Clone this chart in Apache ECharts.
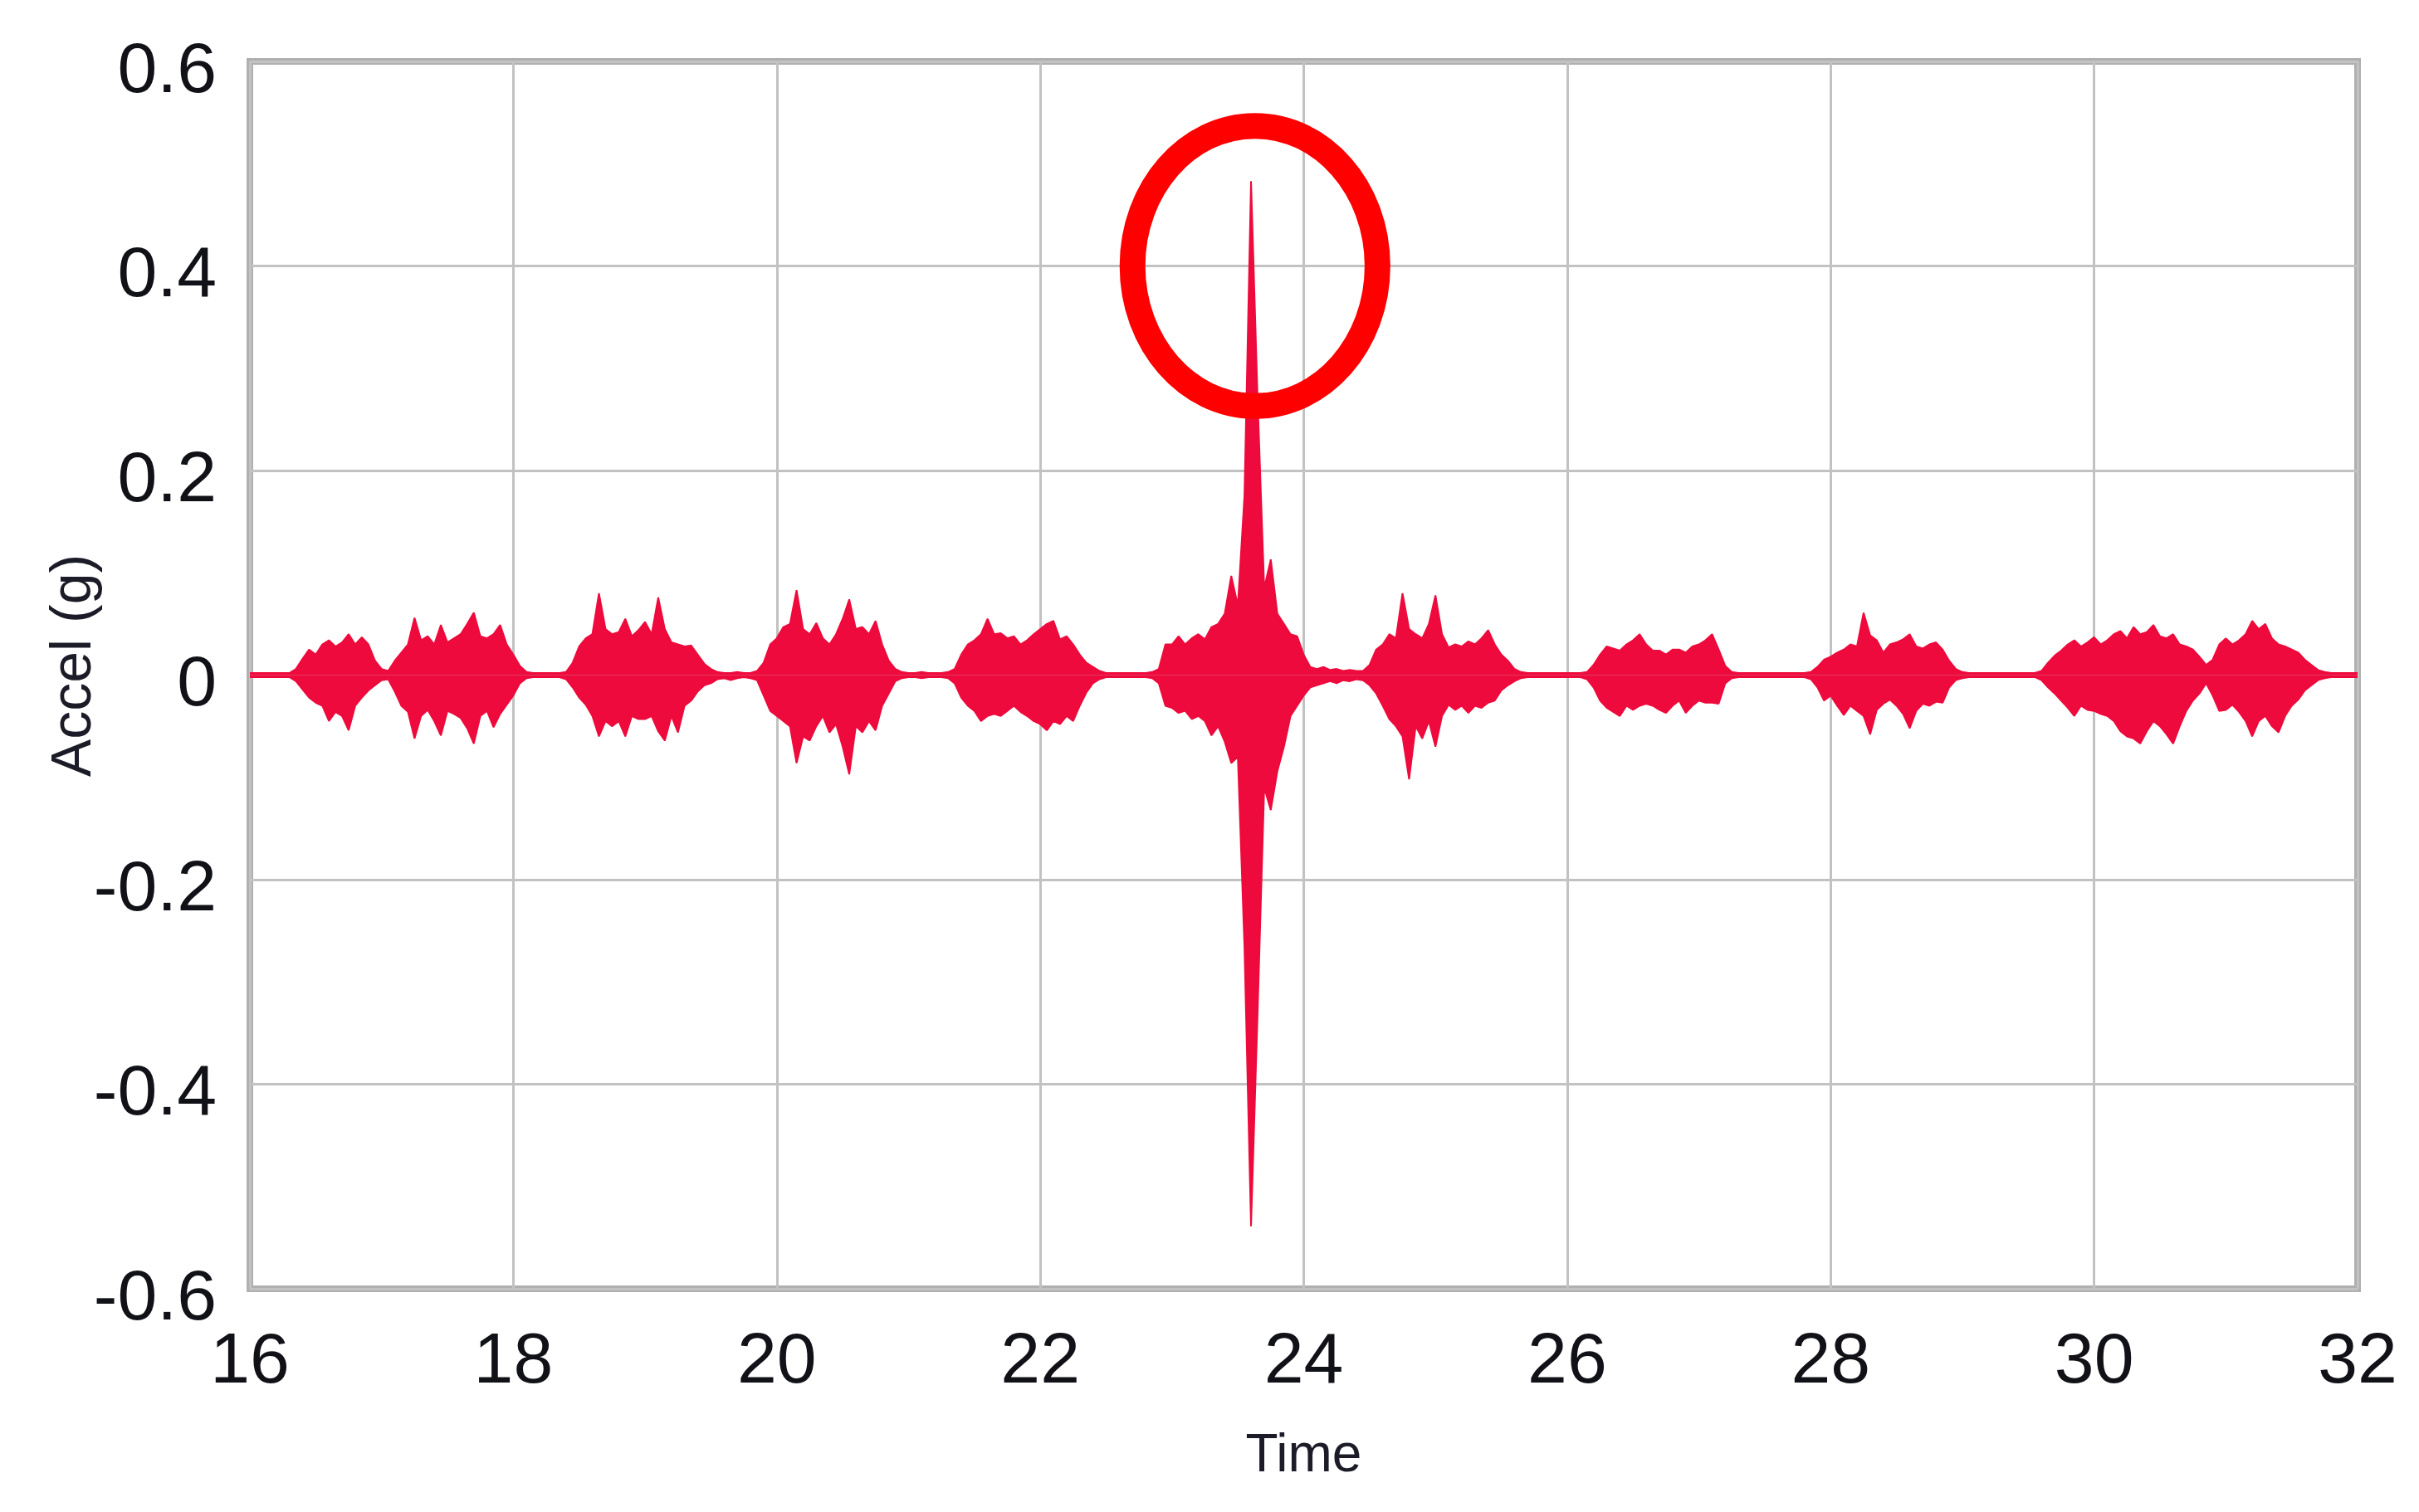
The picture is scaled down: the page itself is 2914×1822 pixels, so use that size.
<!DOCTYPE html>
<html>
<head>
<meta charset="utf-8">
<title>Accel (g) vs Time</title>
<script src="https://cdn.jsdelivr.net/npm/echarts@6/dist/echarts.min.js"></script>
<style>
    html, body { margin: 0; padding: 0; background: #ffffff; }
    #chart { width: 2914px; height: 1822px; }
</style>
</head>
<body>
<div id="chart"></div>
<script>
// sampling grid of the envelope (s)
const tStart = 16;
const tStep = 0.05;

// upper envelope of the acceleration, one row per second (16.00 .. 31.95, then 32.00)
const upperG = [
    0.002,0.002,0.002,0.002,0.002,0.002,0.002,0.006,0.016,0.025,0.020,0.030,0.034,0.028,0.032,0.040,0.030,0.037,0.030,0.014,
    0.006,0.004,0.014,0.022,0.030,0.056,0.034,0.038,0.030,0.049,0.032,0.036,0.040,0.050,0.061,0.038,0.036,0.040,0.049,0.030,
    0.020,0.009,0.003,0.002,0.002,0.002,0.002,0.002,0.003,0.012,0.028,0.036,0.040,0.080,0.045,0.040,0.042,0.055,0.038,0.044,
    0.052,0.040,0.076,0.045,0.032,0.030,0.028,0.029,0.020,0.011,0.006,0.003,0.002,0.002,0.003,0.002,0.002,0.004,0.012,0.030,
    0.036,0.047,0.050,0.083,0.045,0.040,0.051,0.036,0.030,0.040,0.055,0.074,0.045,0.047,0.040,0.053,0.030,0.014,0.006,0.003,
    0.002,0.002,0.003,0.002,0.002,0.002,0.003,0.006,0.020,0.030,0.034,0.040,0.055,0.040,0.041,0.036,0.038,0.030,0.034,0.040,
    0.045,0.050,0.053,0.035,0.038,0.030,0.020,0.012,0.008,0.004,0.002,0.002,0.002,0.002,0.002,0.002,0.002,0.003,0.006,0.030,
    0.030,0.038,0.030,0.036,0.040,0.035,0.047,0.050,0.060,0.097,0.068,0.175,0.483,0.270,0.085,0.113,0.060,0.050,0.040,0.038,
    0.020,0.008,0.006,0.008,0.005,0.006,0.004,0.005,0.004,0.004,0.010,0.025,0.030,0.040,0.036,0.080,0.045,0.040,0.036,0.050,
    0.078,0.040,0.027,0.030,0.028,0.033,0.030,0.036,0.044,0.030,0.020,0.014,0.006,0.003,0.002,0.002,0.002,0.002,0.002,0.002,
    0.002,0.002,0.002,0.003,0.010,0.020,0.028,0.026,0.024,0.030,0.034,0.040,0.030,0.024,0.024,0.020,0.025,0.025,0.022,0.028,
    0.030,0.034,0.040,0.025,0.009,0.003,0.002,0.002,0.002,0.002,0.002,0.002,0.002,0.002,0.002,0.002,0.002,0.003,0.008,0.015,
    0.018,0.022,0.025,0.030,0.028,0.061,0.039,0.034,0.022,0.030,0.032,0.035,0.040,0.028,0.026,0.030,0.032,0.025,0.014,0.006,
    0.003,0.002,0.002,0.002,0.002,0.002,0.002,0.002,0.002,0.002,0.002,0.002,0.004,0.012,0.019,0.024,0.030,0.034,0.028,0.032,
    0.037,0.030,0.034,0.040,0.043,0.036,0.047,0.040,0.042,0.049,0.038,0.036,0.040,0.030,0.028,0.025,0.018,0.010,0.015,0.030,
    0.036,0.030,0.034,0.040,0.053,0.045,0.050,0.036,0.030,0.028,0.025,0.022,0.015,0.010,0.005,0.003,0.002,0.002,0.002,0.002,
    0.002
];

// lower envelope of the acceleration, same grid
const lowerG = [
    -0.002,-0.002,-0.002,-0.002,-0.002,-0.002,-0.002,-0.006,-0.014,-0.022,-0.027,-0.030,-0.045,-0.036,-0.040,-0.054,-0.030,-0.022,-0.015,-0.010,
    -0.005,-0.004,-0.016,-0.030,-0.036,-0.062,-0.040,-0.034,-0.045,-0.059,-0.035,-0.038,-0.042,-0.052,-0.067,-0.040,-0.035,-0.051,-0.038,-0.029,
    -0.020,-0.008,-0.003,-0.002,-0.002,-0.002,-0.002,-0.002,-0.004,-0.012,-0.022,-0.029,-0.040,-0.060,-0.045,-0.050,-0.045,-0.060,-0.040,-0.043,
    -0.043,-0.040,-0.055,-0.064,-0.040,-0.056,-0.030,-0.025,-0.016,-0.010,-0.008,-0.004,-0.003,-0.005,-0.003,-0.002,-0.003,-0.005,-0.020,-0.035,
    -0.040,-0.045,-0.050,-0.086,-0.060,-0.064,-0.050,-0.040,-0.056,-0.048,-0.070,-0.097,-0.050,-0.056,-0.045,-0.054,-0.030,-0.018,-0.006,-0.003,
    -0.002,-0.002,-0.003,-0.002,-0.002,-0.002,-0.003,-0.008,-0.022,-0.030,-0.035,-0.045,-0.040,-0.038,-0.040,-0.035,-0.030,-0.036,-0.040,-0.045,
    -0.048,-0.054,-0.045,-0.048,-0.040,-0.045,-0.030,-0.017,-0.008,-0.004,-0.002,-0.002,-0.002,-0.002,-0.002,-0.002,-0.002,-0.003,-0.008,-0.030,
    -0.032,-0.037,-0.035,-0.043,-0.040,-0.045,-0.059,-0.050,-0.065,-0.086,-0.080,-0.265,-0.539,-0.330,-0.110,-0.132,-0.094,-0.070,-0.040,-0.030,
    -0.020,-0.012,-0.010,-0.008,-0.006,-0.008,-0.005,-0.006,-0.004,-0.005,-0.010,-0.018,-0.030,-0.043,-0.050,-0.060,-0.102,-0.050,-0.062,-0.045,
    -0.070,-0.040,-0.029,-0.034,-0.030,-0.037,-0.030,-0.032,-0.027,-0.025,-0.015,-0.010,-0.006,-0.003,-0.002,-0.002,-0.002,-0.002,-0.002,-0.002,
    -0.002,-0.002,-0.002,-0.004,-0.012,-0.025,-0.032,-0.036,-0.040,-0.030,-0.034,-0.030,-0.028,-0.030,-0.034,-0.037,-0.030,-0.025,-0.037,-0.030,
    -0.025,-0.027,-0.027,-0.028,-0.008,-0.003,-0.002,-0.002,-0.002,-0.002,-0.002,-0.002,-0.002,-0.002,-0.002,-0.002,-0.002,-0.004,-0.012,-0.025,
    -0.020,-0.030,-0.039,-0.030,-0.035,-0.040,-0.058,-0.034,-0.028,-0.024,-0.030,-0.038,-0.052,-0.035,-0.028,-0.030,-0.026,-0.027,-0.012,-0.005,
    -0.003,-0.002,-0.002,-0.002,-0.002,-0.002,-0.002,-0.002,-0.002,-0.002,-0.002,-0.002,-0.005,-0.012,-0.018,-0.025,-0.032,-0.040,-0.030,-0.034,
    -0.035,-0.038,-0.040,-0.045,-0.055,-0.060,-0.062,-0.067,-0.055,-0.045,-0.050,-0.058,-0.067,-0.050,-0.035,-0.025,-0.018,-0.008,-0.020,-0.035,
    -0.034,-0.029,-0.036,-0.045,-0.060,-0.045,-0.040,-0.050,-0.056,-0.040,-0.030,-0.024,-0.015,-0.010,-0.005,-0.003,-0.002,-0.002,-0.002,-0.002,
    -0.002
];

// ticks
const xTicks = [16, 32, 2];       // min, max, interval
const yTicks = [-0.6, 0.6, 0.2];

// the red ring drawn around the peak (data units: centre, half width, half height)
const ringCenter = [23.63, 0.40];
const ringRadius = [0.93, 0.137];

const traceColor = '#ee0a3c';
const fontFamily = '"Liberation Sans", Arial, sans-serif';

function toPoints(values) {
    let pts = [];
    values.map((v, i) => {
        pts.push([+(tStart + i * tStep).toFixed(2), v]);
    });
    return pts;
}

let chart = echarts.init(document.getElementById('chart'));

let option = {
    animation: false,
    backgroundColor: '#ffffff',
    grid: {
        left: 301,
        right: 74,
        top: 74,
        bottom: 269,
        show: true,
        backgroundColor: '#ffffff',
        borderColor: '#b0b0b0',
        borderWidth: 8
    },
    xAxis: {
        type: 'value',
        min: xTicks[0],
        max: xTicks[1],
        interval: xTicks[2],
        name: 'Time',
        nameLocation: 'middle',
        nameGap: 170,
        nameTextStyle: {
            fontSize: 64,
            color: '#1c1c28',
            fontFamily: fontFamily
        },
        axisLine: { show: false },
        axisTick: { show: false },
        axisLabel: {
            fontSize: 86,
            color: '#111118',
            fontFamily: fontFamily,
            margin: 46
        },
        splitLine: {
            show: true,
            lineStyle: { color: '#c2c2c2', width: 3 }
        }
    },
    yAxis: {
        type: 'value',
        min: yTicks[0],
        max: yTicks[1],
        interval: yTicks[2],
        axisLine: { show: false },
        axisTick: { show: false },
        axisLabel: {
            color: '#111118',
            margin: 40,
            formatter: (v) => '{n|' + String(Math.round(v * 10) / 10) + '}',
            rich: {
                n: {
                    fontSize: 86,
                    fontFamily: fontFamily,
                    color: '#111118',
                    padding: [26, 0, 0, 0]
                }
            }
        },
        splitLine: {
            show: true,
            lineStyle: { color: '#c2c2c2', width: 3 }
        }
    },
    series: [
        {
            name: 'upper',
            type: 'line',
            data: toPoints(upperG),
            showSymbol: false,
            lineStyle: { color: traceColor, width: 2 },
            areaStyle: { color: traceColor, opacity: 1 },
            z: 3
        },
        {
            name: 'lower',
            type: 'line',
            data: toPoints(lowerG),
            showSymbol: false,
            lineStyle: { color: traceColor, width: 2 },
            areaStyle: { color: traceColor, opacity: 1 },
            z: 3
        }
    ]
};
chart.setOption(option);

// axis title on the left and the ring around the peak
let c = chart.convertToPixel({ gridIndex: 0 }, ringCenter);
let e = chart.convertToPixel({ gridIndex: 0 }, [ringCenter[0] + ringRadius[0], ringCenter[1] - ringRadius[1]]);

chart.setOption({
    graphic: [
        {
            id: 'yname',
            type: 'text',
            x: 90,
            y: 802,
            rotation: Math.PI / 2,
            style: {
                text: 'Accel (g)',
                fontSize: 68,
                fontFamily: fontFamily,
                fill: '#1c1c28',
                textAlign: 'center',
                textVerticalAlign: 'middle'
            }
        },
        {
            id: 'ring',
            type: 'ellipse',
            z: 100,
            shape: {
                cx: c[0],
                cy: c[1],
                rx: e[0] - c[0],
                ry: e[1] - c[1]
            },
            style: {
                fill: 'none',
                stroke: '#ff0000',
                lineWidth: 31
            }
        }
    ]
});
</script>
</body>
</html>
